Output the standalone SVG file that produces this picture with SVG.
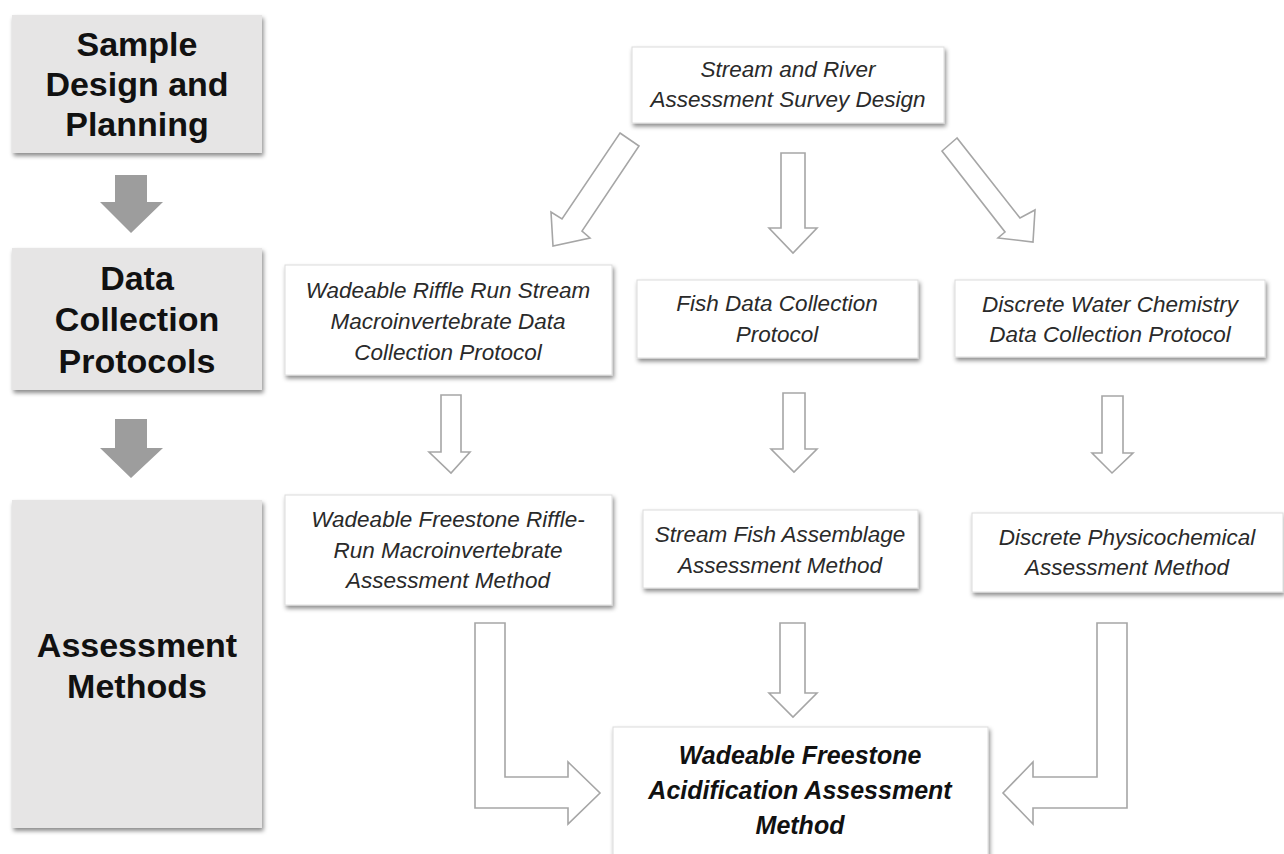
<svg xmlns="http://www.w3.org/2000/svg" width="1284" height="854" viewBox="0 0 1284 854">
<defs>
<filter id="sh" x="-10%" y="-10%" width="125%" height="130%">
<feDropShadow dx="1.5" dy="3" stdDeviation="2" flood-color="#000" flood-opacity="0.45"/>
</filter>
<style>
.stage{fill:#e6e5e5;filter:url(#sh)}
.box{fill:#fff;stroke:#dcdcdc;stroke-width:1;filter:url(#sh)}
.lt{font-family:"Liberation Sans",Arial,sans-serif;font-weight:bold;font-size:34px;fill:#111;text-anchor:middle}
.it{font-family:"Liberation Sans",Arial,sans-serif;font-style:italic;font-size:22.5px;fill:#2a2a2a;text-anchor:middle}
.fin{font-family:"Liberation Sans",Arial,sans-serif;font-style:italic;font-weight:bold;font-size:25px;fill:#111;text-anchor:middle}
.garr{fill:#9d9d9d}
.oarr{fill:#fff;stroke:#a6a6a6;stroke-width:1.6;stroke-linejoin:miter}
</style>
</defs>
<rect width="1284" height="854" fill="#fff"/>

<g id="stage-sample">
<rect class="stage" x="12" y="15" width="250" height="138"/>
<text class="lt" x="137" y="56">Sample</text>
<text class="lt" x="137" y="96">Design and</text>
<text class="lt" x="137" y="136">Planning</text>
</g>
<g id="stage-data">
<rect class="stage" x="12" y="248" width="250" height="142"/>
<text class="lt" x="137" y="290">Data</text>
<text class="lt" x="137" y="331">Collection</text>
<text class="lt" x="137" y="373">Protocols</text>
</g>
<g id="stage-assess">
<rect class="stage" x="12" y="500" width="250" height="328"/>
<text class="lt" x="137" y="657">Assessment</text>
<text class="lt" x="137" y="698">Methods</text>
</g>

<g id="survey">
<rect class="box" x="632" y="47" width="312" height="76"/>
<text class="it" x="788" y="77">Stream and River</text>
<text class="it" x="788" y="107">Assessment Survey Design</text>
</g>
<g id="macro-protocol">
<rect class="box" x="285" y="265" width="327" height="110"/>
<text class="it" x="448" y="298">Wadeable Riffle Run Stream</text>
<text class="it" x="448" y="329">Macroinvertebrate Data</text>
<text class="it" x="448" y="360">Collection Protocol</text>
</g>
<g id="fish-protocol">
<rect class="box" x="637" y="280" width="281" height="78"/>
<text class="it" x="777" y="311">Fish Data Collection</text>
<text class="it" x="777" y="342">Protocol</text>
</g>
<g id="chem-protocol">
<rect class="box" x="955" y="280" width="310" height="77"/>
<text class="it" x="1110" y="312">Discrete Water Chemistry</text>
<text class="it" x="1110" y="342">Data Collection Protocol</text>
</g>
<g id="macro-method">
<rect class="box" x="285" y="495" width="327" height="110"/>
<text class="it" x="448" y="527">Wadeable Freestone Riffle-</text>
<text class="it" x="448" y="558">Run Macroinvertebrate</text>
<text class="it" x="448" y="588">Assessment Method</text>
</g>
<g id="fish-method">
<rect class="box" x="643" y="510" width="275" height="78"/>
<text class="it" x="780" y="542">Stream Fish Assemblage</text>
<text class="it" x="780" y="573">Assessment Method</text>
</g>
<g id="chem-method">
<rect class="box" x="972" y="513" width="311" height="79"/>
<text class="it" x="1127" y="545">Discrete Physicochemical</text>
<text class="it" x="1127" y="575">Assessment Method</text>
</g>
<g id="acid-method">
<rect class="box" x="613" y="727" width="375" height="130"/>
<text class="fin" x="800" y="764">Wadeable Freestone</text>
<text class="fin" x="800" y="799">Acidification Assessment</text>
<text class="fin" x="800" y="834">Method</text>
</g>

<g id="connectors">
<polygon class="garr" points="115,175 147,175 147,202 163,202 131,233 100,202 115,202"/>
<polygon class="garr" points="115,419 147,419 147,448 163,448 131,478 100,448 115,448"/>

<polygon class="oarr" points="620,133 639,146 582,231 590,238 553,246 551,212 562,219"/>
<polygon class="oarr" points="781,153 805,153 805,228 817,228 793,253 769,228 781,228"/>
<polygon class="oarr" points="957,138 942,151 1005,232 998,238 1033,242 1035,210 1020,218"/>

<polygon class="oarr" points="441,395 461,395 461,452 470,452 451,473 429,452 441,452"/>
<polygon class="oarr" points="783,393 805,393 805,449 817,449 794,472 771,449 783,449"/>
<polygon class="oarr" points="1102,396 1123,396 1123,453 1133,453 1112,473 1092,453 1102,453"/>

<polygon class="oarr" points="475,623 505,623 505,777 568,777 568,762 600,793 568,824 568,808 475,808"/>
<polygon class="oarr" points="780,623 805,623 805,693 817,693 793,717 769,693 780,693"/>
<polygon class="oarr" points="1127,623 1097,623 1097,777 1033,777 1033,762 1003,793 1033,824 1033,808 1127,808"/>
</g>
</svg>
